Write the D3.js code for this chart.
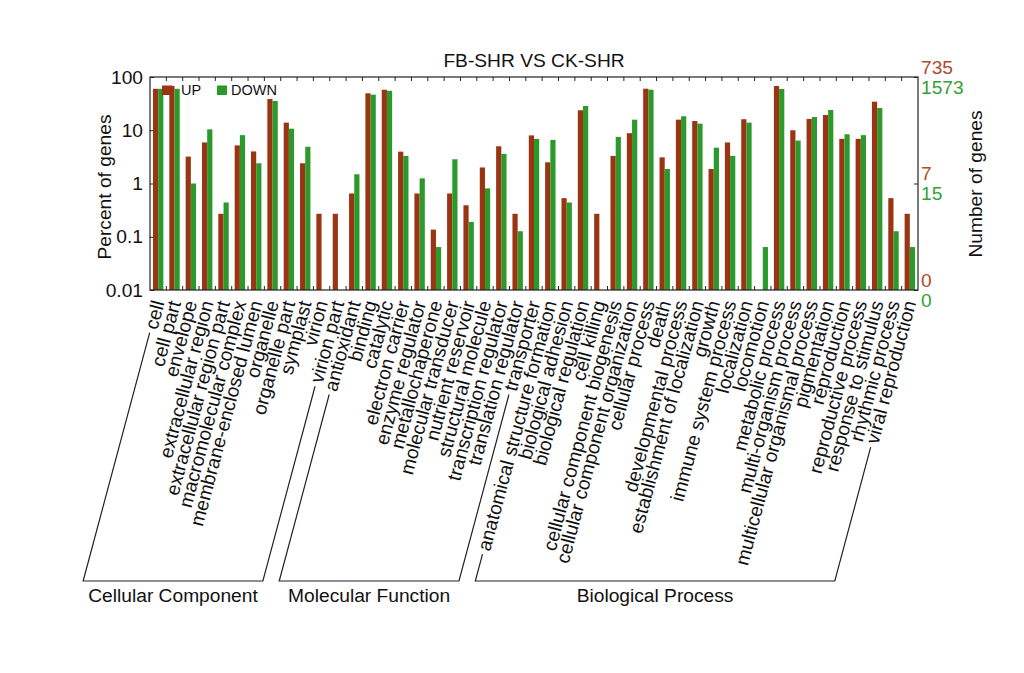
<!DOCTYPE html>
<html><head><meta charset="utf-8">
<script src="https://cdn.jsdelivr.net/npm/d3@7"></script>
<style>body{margin:0;background:#fff} text{font-family:"Liberation Sans", Arial, Helvetica, sans-serif}</style>
</head><body><svg id="c" width="1024" height="673"></svg>
<script>
const categories = ["cell","cell part","envelope","extracellular region","extracellular region part","macromolecular complex","membrane-enclosed lumen","organelle","organelle part","symplast","virion","virion part",
"antioxidant","binding","catalytic","electron carrier","enzyme regulator","metallochaperone","molecular transducer","nutrient reservoir","structural molecule","transcription regulator","translation regulator","transporter",
"anatomical structure formation","biological adhesion","biological regulation","cell killing","cellular component biogenesis","cellular component organization","cellular process","death","developmental process","establishment of localization","growth","immune system process","localization","locomotion","metabolic process","multi-organism process","multicellular organismal process","pigmentation","reproduction","reproductive process","response to stimulus","rhythmic process","viral reproduction"];
const upValues = [60,68,3.2,5.9,0.27,5.2,4.0,38.6,13.9,2.4,0.27,0.27,
0.65,49.4,57.7,3.96,0.65,0.136,0.65,0.39,2.0,5.0,0.27,8.0,
2.5,0.53,23.7,0.27,3.3,8.8,60.3,3.1,15.8,14.9,1.87,5.9,16.1,null,67.8,10,16.3,19.3,6.9,6.9,34.4,0.53,0.27];
const downValues = [60,60,1.0,10.4,0.44,8.1,2.4,35.4,10.7,4.9,null,null,
1.49,46.6,55,3.3,1.25,0.064,2.85,0.19,0.81,3.6,0.127,6.9,
6.6,0.44,28.5,null,7.5,15.8,57.7,1.87,18.3,13.3,4.7,3.3,13.9,0.064,59.6,6.4,17.7,24,8.4,8.1,26.2,0.127,0.064];
const groupNames = ["Cellular Component","Molecular Function","Biological Process"];
const groupFirst = [0,12,24];
const groupLast = [11,23,46];
const leftTickValues = [100,10,1,0.1,0.01];
const leftTickLabels = ["100","10","1","0.1","0.01"];
const rightTickValues = [100,1,0.01];
const rightUpLabels = ["735","7","0"];
const rightDownLabels = ["1573","15","0"];
const seriesNames = ["UP","DOWN"];
const title = "FB-SHR VS CK-SHR";

const RED = "#9b3412", GREEN = "#2b9a2b", RED_T = "#b4492a", GREEN_T = "#35a035";
const L = 150, R = 918, T = 77, B = 290;
const FS = 19.2;
const svg = d3.select("#c");

const x = d3.scaleBand().domain(categories).range([L, R]);
const y = d3.scaleLog().domain([0.01, 100]).range([B, T]);
const bw = 5.2;

// left ticks inward
const la = svg.append("g").attr("transform", `translate(${L},0)`)
  .call(d3.axisLeft(y).tickValues(leftTickValues).tickFormat((d,i)=>leftTickLabels[i]).tickSizeInner(-4).tickSizeOuter(0).tickPadding(7));
la.select(".domain").remove();
la.selectAll("text").attr("font-size", FS).attr("fill","#111").attr("font-family","Liberation Sans, Arial, sans-serif");
la.selectAll("line").attr("stroke","#222");

// right axis ticks inward
const ra = svg.append("g").attr("transform", `translate(${R},0)`)
  .call(d3.axisRight(y).tickValues(rightTickValues).tickFormat("").tickSizeInner(-4).tickSizeOuter(0));
ra.select(".domain").remove();
ra.selectAll("line").attr("stroke","#222");
rightTickValues.forEach((v,i)=>{
  svg.append("text").attr("x", R+3).attr("y", y(v)-3.5).attr("font-size", FS).attr("fill", RED_T).text(rightUpLabels[i]);
  svg.append("text").attr("x", R+3).attr("y", y(v)+16.5).attr("font-size", FS).attr("fill", GREEN_T).text(rightDownLabels[i]);
});

// category boundary ticks top & bottom
const bounds = d3.range(1, categories.length).map(k => x(categories[k]));
svg.append("g").selectAll("line.tt").data(bounds).join("line")
  .attr("x1", d=>d).attr("x2", d=>d).attr("y1", T).attr("y2", T+4).attr("stroke","#222");
svg.append("g").selectAll("line.bt").data(bounds).join("line")
  .attr("x1", d=>d).attr("x2", d=>d).attr("y1", B).attr("y2", B-4).attr("stroke","#222");

// bars
const cx = c => x(c) + x.bandwidth()/2;
svg.append("g").selectAll("rect").data(categories.map((c,i)=>({c, v: upValues[i]})).filter(d=>d.v!=null)).join("rect")
  .attr("x", d=>cx(d.c)-bw).attr("width", bw).attr("y", d=>y(d.v)).attr("height", d=>B-y(d.v)).attr("fill", RED);
svg.append("g").selectAll("rect").data(categories.map((c,i)=>({c, v: downValues[i]})).filter(d=>d.v!=null)).join("rect")
  .attr("x", d=>cx(d.c)).attr("width", bw).attr("y", d=>y(d.v)).attr("height", d=>B-y(d.v)).attr("fill", GREEN);

// frame
svg.append("rect").attr("x", L).attr("y", T).attr("width", R-L).attr("height", B-T).attr("fill","none").attr("stroke","#222").attr("stroke-width",1.2);

// legend
svg.append("rect").attr("x",162).attr("y",85.5).attr("width",10).attr("height",9.5).attr("fill",RED);
svg.append("text").attr("x",181).attr("y",95).attr("font-size",14.5).attr("fill","#111").text(seriesNames[0]);
svg.append("rect").attr("x",217).attr("y",85.5).attr("width",10).attr("height",9.5).attr("fill",GREEN);
svg.append("text").attr("x",231).attr("y",95).attr("font-size",14.5).attr("fill","#111").text(seriesNames[1]);

// title
svg.append("text").attr("x",534).attr("y",67).attr("text-anchor","middle").attr("font-size",FS).attr("fill","#111").text(title);

// axis titles
svg.append("text").attr("transform","translate(111,187) rotate(-90)").attr("text-anchor","middle").attr("font-size",FS).attr("fill","#111").text("Percent of genes");
svg.append("text").attr("transform","translate(982,184) rotate(-90)").attr("text-anchor","middle").attr("font-size",FS).attr("fill","#111").text("Number of genes");

// category labels
const ANG = 75, AY = 301;
const cs = Math.cos(ANG*Math.PI/180), sn = Math.sin(ANG*Math.PI/180);
const labels = svg.append("g").selectAll("text").data(categories).join("text")
  .attr("transform", d=>`translate(${cx(d)},${AY}) rotate(${-ANG})`)
  .attr("text-anchor","end").attr("dy","0.35em").attr("font-size",FS).attr("fill","#111").text(d=>d);
const lens = [];
labels.each(function(){ lens.push(this.getComputedTextLength()); });

// brackets
const BY = 581, gap = 4;
function startPt(i){
  const Lx = lens[i] + gap;
  return [cx(categories[i]) - cs*Lx, AY + sn*Lx];
}
groupNames.forEach((g,gi)=>{
  const s = startPt(groupFirst[gi]), e = startPt(groupLast[gi]);
  const sb = [s[0] - (BY - s[1])*cs/sn, BY];
  const eb = [e[0] - (BY - e[1])*cs/sn, BY];
  svg.append("path").attr("d", d3.line()([s, sb, eb, e])).attr("fill","none").attr("stroke","#222").attr("stroke-width",1.2);
  svg.append("text").attr("x",(sb[0]+eb[0])/2).attr("y",BY+21).attr("text-anchor","middle").attr("font-size",FS).attr("fill","#111").text(g);
});
</script></body></html>
